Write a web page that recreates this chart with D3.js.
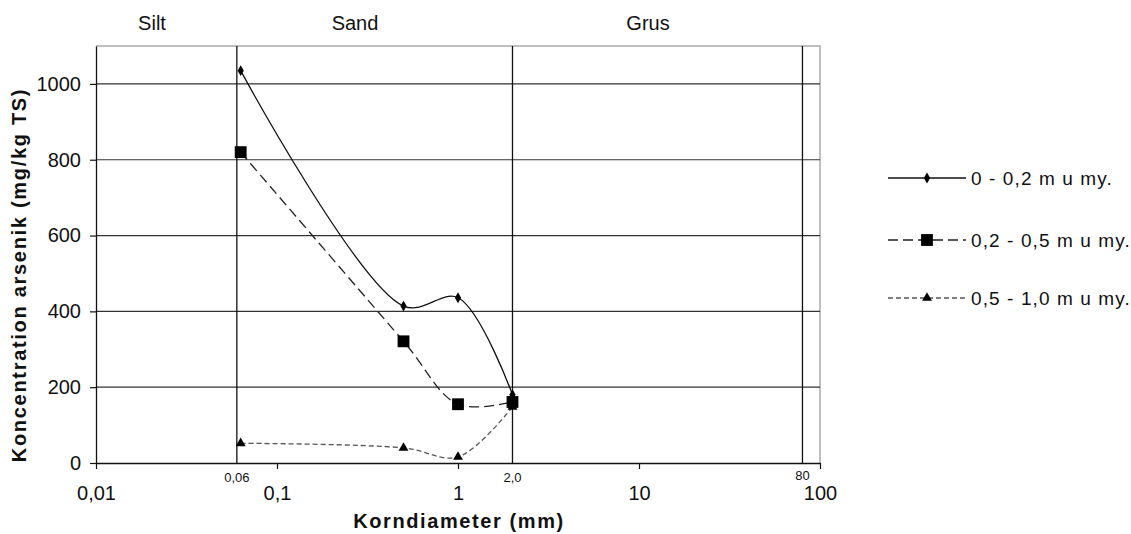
<!DOCTYPE html>
<html>
<head>
<meta charset="utf-8">
<script src="https://cdn.jsdelivr.net/npm/d3@7"></script>
<style>
  body { margin: 0; background: #fff; }
  text { font-family: "Liberation Sans", Arial, sans-serif; fill: #111; }
</style>
</head>
<body>
<div id="chart"></div>
<script>
// Arsenic concentration per grain size fraction

const grainSizes = [0.063, 0.5, 1, 2];          // mm
const series1 = [1035, 414, 436, 180];           // 0 - 0,2 m u my.
const series2 = [820, 321, 155, 161];            // 0,2 - 0,5 m u my.
const series3 = [52, 40, 16, 148];               // 0,5 - 1,0 m u my.
const seriesNames = ['0 - 0,2 m u my.', '0,2 - 0,5 m u my.', '0,5 - 1,0 m u my.'];

const xTicks = [0.01, 0.1, 1, 10, 100];
const xTickLabels = ['0,01', '0,1', '1', '10', '100'];
const yTicks = [0, 200, 400, 600, 800, 1000];
const boundaries = [0.06, 2, 80];
const boundaryLabels = ['0,06', '2,0', '80'];
const zones = ['Silt', 'Sand', 'Grus'];

const W = 1131, H = 534;
const plotLeft = 96, plotRight = 820, plotTop = 46, plotBottom = 463;

const svg = d3.select('#chart').append('svg')
    .attr('width', W)
    .attr('height', H);

const x = d3.scaleLog().domain([0.01, 100]).range([plotLeft, plotRight]);
const y = d3.scaleLinear().domain([0, 1100]).range([plotBottom, plotTop]);

// Plot frame (top/right light grey)
svg.append('path')
    .attr('d', `M${plotLeft},${plotTop}H${plotRight}V${plotBottom}`)
    .attr('fill', 'none')
    .attr('stroke', '#aaa')
    .attr('stroke-width', 1.5);

// Horizontal gridlines
svg.append('g')
    .selectAll('line')
    .data(yTicks.filter(d => d > 0))
    .join('line')
    .attr('x1', plotLeft).attr('x2', plotRight)
    .attr('y1', d => y(d)).attr('y2', d => y(d))
    .attr('stroke', '#333')
    .attr('stroke-width', 1.2);

// Fraction boundaries
svg.append('g')
    .selectAll('line')
    .data(boundaries)
    .join('line')
    .attr('x1', d => x(d)).attr('x2', d => x(d))
    .attr('y1', plotTop).attr('y2', plotBottom)
    .attr('stroke', '#111')
    .attr('stroke-width', 1.3);

svg.append('g')
    .selectAll('text')
    .data(boundaries)
    .join('text')
    .attr('x', d => x(d))
    .attr('y', (d, i) => i === 2 ? 480 : 482)
    .attr('text-anchor', 'middle')
    .attr('font-size', '13px')
    .text((d, i) => boundaryLabels[i]);

// Axes
const yAxis = svg.append('g')
    .attr('transform', `translate(${plotLeft},0)`)
    .call(d3.axisLeft(y).tickValues(yTicks).tickSize(6).tickSizeOuter(0)
        .tickFormat(d3.format('d')));
const xAxis = svg.append('g')
    .attr('transform', `translate(0,${plotBottom})`)
    .call(d3.axisBottom(x).tickValues(xTicks).tickSize(6).tickSizeOuter(0)
        .tickFormat((d, i) => xTickLabels[i]));

[yAxis, xAxis].forEach(a => {
    a.select('.domain').attr('stroke', '#111').attr('stroke-width', 1.3);
    a.selectAll('.tick line').attr('stroke', '#111').attr('stroke-width', 1.2);
    a.selectAll('.tick text').attr('font-size', '20px').attr('fill', '#111')
        .attr('font-family', '"Liberation Sans", Arial, sans-serif');
});
yAxis.selectAll('.tick text').attr('x', -15);
xAxis.selectAll('.tick text').attr('y', 23);

// Zone labels
const zoneX = [152, 355, 648];
svg.append('g')
    .selectAll('text')
    .data(zones)
    .join('text')
    .attr('x', (d, i) => zoneX[i])
    .attr('y', 30)
    .attr('text-anchor', 'middle')
    .attr('font-size', '20px')
    .text(d => d);

// Axis titles
svg.append('text')
    .attr('transform', 'translate(26,275) rotate(-90)')
    .attr('text-anchor', 'middle')
    .attr('font-size', '20px')
    .attr('font-weight', 'bold')
    .attr('letter-spacing', '1.7px')
    .text('Koncentration arsenik (mg/kg TS)');

svg.append('text')
    .attr('x', 459)
    .attr('y', 528)
    .attr('text-anchor', 'middle')
    .attr('font-size', '20px')
    .attr('font-weight', 'bold')
    .attr('letter-spacing', '1.6px')
    .text('Korndiameter (mm)');

// Series
const styles = [
    { dash: null, color: '#111', symbol: d3.symbolDiamond, size: 34 },
    { dash: '10,5', color: '#222', symbol: d3.symbolSquare, size: 140 },
    { dash: '5,3', color: '#555', symbol: d3.symbolTriangle, size: 42 },
];
const allSeries = [series1, series2, series3];

const line = d3.line()
    .x(d => x(d[0]))
    .y(d => y(d[1]))
    .curve(d3.curveCatmullRom);

allSeries.forEach((vals, i) => {
    const pts = grainSizes.map((g, j) => [g, vals[j]]);
    svg.append('path')
        .datum(pts)
        .attr('d', line)
        .attr('fill', 'none')
        .attr('stroke', styles[i].color)
        .attr('stroke-width', 1.3)
        .attr('stroke-dasharray', styles[i].dash);
});

allSeries.forEach((vals, i) => {
    svg.append('g')
        .selectAll('path')
        .data(grainSizes.map((g, j) => [g, vals[j]]))
        .join('path')
        .attr('transform', d => `translate(${x(d[0])},${y(d[1])})`)
        .attr('d', d3.symbol().type(styles[i].symbol).size(styles[i].size))
        .attr('fill', '#000');
});

// Legend
const legendY = [178, 240, 298];
const legend = svg.append('g')
    .selectAll('g')
    .data(seriesNames)
    .join('g')
    .attr('transform', (d, i) => `translate(888,${legendY[i]})`);

legend.append('line')
    .attr('x1', 0).attr('x2', 78)
    .attr('stroke', (d, i) => styles[i].color)
    .attr('stroke-width', 1.3)
    .attr('stroke-dasharray', (d, i) => styles[i].dash);
legend.append('path')
    .attr('transform', 'translate(39,0)')
    .attr('d', (d, i) => d3.symbol().type(styles[i].symbol).size(styles[i].size)())
    .attr('fill', '#000');
legend.append('text')
    .attr('x', 83)
    .attr('dy', '0.35em')
    .attr('font-size', '19px')
    .attr('letter-spacing', '1.1px')
    .text(d => d);
</script>
</body>
</html>
